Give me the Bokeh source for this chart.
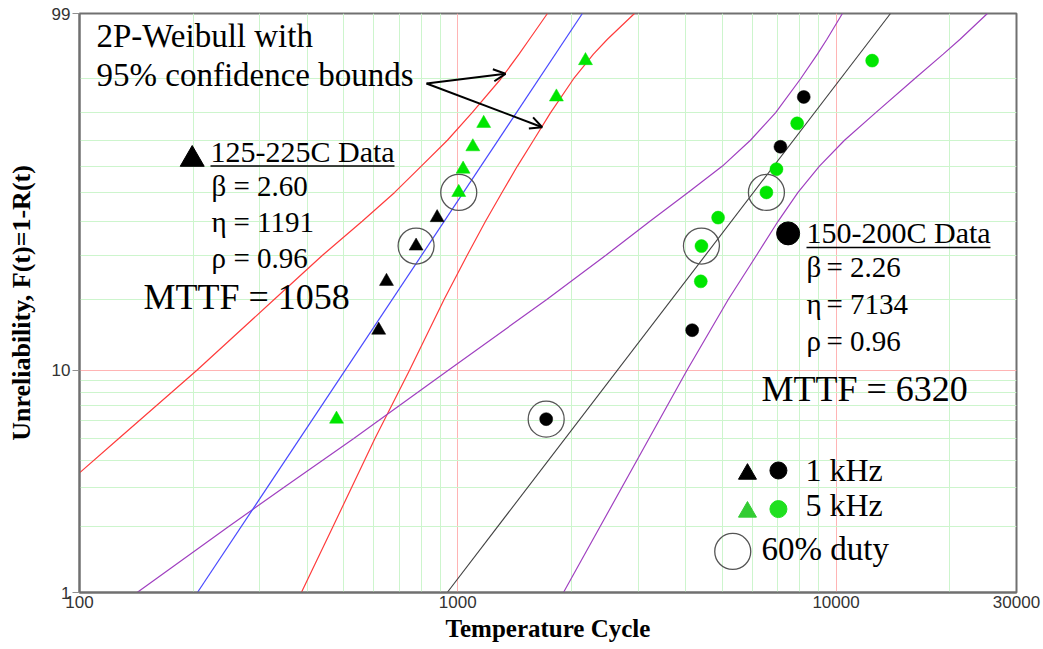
import numpy as np
from bokeh.plotting import figure
from bokeh.models import (Range1d, FixedTicker, CustomJSTickFormatter, PrintfTickFormatter,
                          Label, Arrow, OpenHead, ColumnDataSource)
from bokeh.embed import file_html
from bokeh.resources import INLINE

# ---------------- data ----------------
# median-rank unreliability (%) of the 11 failures in each group
rank_F = [6.1, 14.9, 23.7, 32.5, 41.2, 50.0, 58.8, 67.5, 76.3, 85.1, 93.9]

# 125-225C group (triangles)
cyc_125_225 = [478, 618, 648, 776, 882, 1006, 1033, 1096, 1171, 1823, 2176]
khz_125_225 = ["5", "1", "1", "1", "1", "5", "5", "5", "5", "5", "5"]
duty60_125_225 = [0, 0, 0, 1, 0, 1, 0, 0, 0, 0, 0]

# 150-200C group (circles)
cyc_150_200 = [1713, 4166, 4390, 4408, 4878, 6546, 6959, 7129, 7893, 8216, 12459]
khz_150_200 = ["1", "1", "5", "5", "5", "5", "5", "1", "5", "1", "5"]
duty60_150_200 = [1, 0, 0, 1, 0, 1, 0, 0, 0, 0, 0]

# fitted 2P-Weibull lines (end points at F = 1% and 99%)
fit_F = [1, 99]
fit_125_225 = [205, 2135]
fit_150_200 = [938, 13930]

# 95% confidence bounds
bnd125_lo_F = [3.5, 5, 10, 20, 30, 40, 50, 60, 70, 80, 90, 95, 97, 99]
bnd125_lo_X = [100, 127, 204, 327, 439, 559, 681, 801, 939, 1090, 1299, 1452, 1547, 1726]
bnd125_hi_F = [1, 2, 5, 10, 20, 30, 40, 50, 60, 70, 80, 90, 95, 97, 99]
bnd125_hi_X = [386, 468, 604, 745, 920, 1059, 1184, 1309, 1438, 1586, 1758, 2022, 2284, 2487, 2932]
bnd150_lo_F = [1, 2, 3, 5, 10, 20, 30, 40, 50, 60, 70, 80, 90, 95, 97, 99]
bnd150_lo_X = [142, 248, 346, 531, 942, 1719, 2464, 3222, 4063, 5009, 5939, 6917, 8052, 8929, 9461, 10396]
bnd150_hi_F = [1, 2, 5, 10, 20, 30, 40, 50, 60, 70, 80, 90, 95, 97, 99]
bnd150_hi_X = [1903, 2379, 3204, 4033, 5189, 6165, 7027, 7934, 9040, 10531, 12714, 16106, 19205, 21281, 25130]

# axis ticks
x_ticks = [100, 1000, 10000, 30000]
x_major_grid = [1000, 10000]
x_minor_grid = [200, 300, 400, 500, 600, 700, 800, 900,
                2000, 3000, 4000, 5000, 6000, 7000, 8000, 9000, 20000]
y_ticks = [1, 10, 99]
y_major_grid = [10]
y_minor_grid = [2, 3, 4, 5, 6, 7, 8, 9, 20, 30, 40, 50, 60, 70, 80, 90]

# key marks (legend) positions
key_tri_X, key_circ_X = 5833, 7043
key_row1_F = [3.46, 3.59]
key_row2_F = [2.33, 2.40]
key_duty_X, key_duty_F = 5333, 1.54
head125_X, head125_F = 198.6, 62.6
head150_X, head150_F = 7471, 36.2


def wb(F):
    """Weibull probability-paper coordinate ln(-ln(1-F))."""
    return np.log(-np.log(1.0 - np.asarray(F, dtype=float) / 100.0))


GREEN = "#00e600"
SERIF = "Liberation Serif"
GREEK_FONT = "Liberation Serif, DejaVu Serif, serif"

p = figure(width=1042, height=648, x_axis_type="log",
           x_range=Range1d(100, 30000), y_range=Range1d(float(wb(1)), float(wb(99))),
           output_backend="svg", toolbar_location=None, title=None,
           min_border_left=79, min_border_top=13, min_border_right=26, min_border_bottom=56)
p.background_fill_color = "white"
p.border_fill_color = "white"
p.outline_line_color = "#707070"
p.outline_line_width = 2

# grids
p.xgrid.ticker = FixedTicker(ticks=x_major_grid, minor_ticks=x_minor_grid)
p.ygrid.ticker = FixedTicker(ticks=list(wb(y_major_grid)), minor_ticks=list(wb(y_minor_grid)))
for g in (p.xgrid, p.ygrid):
    g.grid_line_color = "#ffb4b4"
    g.grid_line_width = 1
    g.minor_grid_line_color = "#cdf5cd"
    g.minor_grid_line_width = 1

# axes
p.xaxis.ticker = FixedTicker(ticks=x_ticks, minor_ticks=[])
p.xaxis.formatter = PrintfTickFormatter(format="%d")
p.yaxis.ticker = FixedTicker(ticks=list(wb(y_ticks)), minor_ticks=[])
p.yaxis.formatter = CustomJSTickFormatter(
    code="return String(Math.round(100*(1-Math.exp(-Math.exp(tick)))))")
for ax in (p.xaxis, p.yaxis):
    ax.axis_line_color = "#707070"
    ax.axis_line_width = 2
    ax.major_tick_line_color = "#909090"
    ax.minor_tick_line_color = None
    ax.major_tick_in = 0
    ax.major_label_text_font = "Liberation Sans"
    ax.major_label_text_font_size = "17px"
    ax.major_label_text_color = "#333333"
    ax.axis_label_text_font = SERIF
    ax.axis_label_text_font_style = "bold"
    ax.axis_label_text_color = "black"
p.xaxis.major_tick_out = 0
p.xaxis.major_label_standoff = 3
p.xaxis.axis_label = "Temperature Cycle"
p.xaxis.axis_label_text_font_size = "25px"
p.xaxis.axis_label_standoff = 4
p.yaxis.major_tick_out = 7
p.yaxis.major_label_standoff = 2
p.yaxis.axis_label = "Unreliability, F(t)=1-R(t)"
p.yaxis.axis_label_text_font_size = "26px"
p.yaxis.axis_label_standoff = 13

# confidence bounds
p.line(bnd125_lo_X, wb(bnd125_lo_F), line_color="#ff3c3c", line_width=1.2)
p.line(bnd125_hi_X, wb(bnd125_hi_F), line_color="#ff3c3c", line_width=1.2)
p.line(bnd150_lo_X, wb(bnd150_lo_F), line_color="#a040c0", line_width=1.2)
p.line(bnd150_hi_X, wb(bnd150_hi_F), line_color="#a040c0", line_width=1.2)
# fit lines
p.line(fit_125_225, wb(fit_F), line_color="#4848ff", line_width=1.2)
p.line(fit_150_200, wb(fit_F), line_color="#404040", line_width=1.1)

colour = {"1": "black", "5": GREEN}
src125 = ColumnDataSource(dict(x=cyc_125_225, y=wb(rank_F),
                               c=[colour[k] for k in khz_125_225]))
src150 = ColumnDataSource(dict(x=cyc_150_200, y=wb(rank_F),
                               c=[colour[k] for k in khz_150_200]))
p.scatter("x", "y", source=src125, marker="triangle", size=14,
          fill_color="c", line_color="c", line_width=0.5)
p.scatter("x", "y", source=src150, marker="circle", size=13,
          fill_color="c", line_color="c", line_width=0.5)

# 60% duty rings
d_x = [x for x, d in zip(cyc_125_225, duty60_125_225) if d] + \
      [x for x, d in zip(cyc_150_200, duty60_150_200) if d]
d_F = [f for f, d in zip(rank_F, duty60_125_225) if d] + \
      [f for f, d in zip(rank_F, duty60_150_200) if d]
p.scatter(d_x + [key_duty_X], wb(d_F + [key_duty_F]), marker="circle", size=36,
          fill_color=None, line_color="#555555", line_width=1.3)

# key marks
p.scatter([head125_X, key_tri_X], wb([head125_F, key_row1_F[0]]), marker="triangle",
          size=[24, 18], color="black")
p.scatter([head150_X, key_circ_X], wb([head150_F, key_row1_F[1]]), marker="circle",
          size=[23, 17], color="black")
p.scatter([key_tri_X], wb([key_row2_F[0]]), marker="triangle", size=18, color="#33cc33")
p.scatter([key_circ_X], wb([key_row2_F[1]]), marker="circle", size=17, color="#1fe01f")


def label(text, x, y, s, font=SERIF):
    # x from frame left, y = baseline measured up from frame bottom (pixels)
    p.add_layout(Label(x=x, y=y + 0.38 * s, x_units="screen", y_units="screen", text=text,
                       text_font=font, text_font_size=f"{s}px", text_color="black",
                       text_align="left", text_baseline="alphabetic"))


texts = [
    ("2P-Weibull with", 17, 544, 33),
    ("95% confidence bounds", 17, 505.3, 33),
    ("125-225C Data", 131, 430, 30),
    ("MTTF = 1058", 64, 282, 36),
    ("150-200C Data", 727, 349, 30),
    ("MTTF = 6320", 682, 190.3, 36),
    ("1 kHz", 726, 110.3, 32),
    ("5 kHz", 726, 75.3, 32),
    ("60% duty", 682, 31.3, 33),
]
for t, x, y, s in texts:
    label(t, x, y, s)

# parameter lines: greek symbol, value, symbol x, value x, baseline y
params = [
    ("\u03b2", "= 2.60", 132, 154, 395),
    ("\u03b7", "= 1191", 132, 154, 359),
    ("\u03c1", "= 0.96", 132, 154, 323),
    ("\u03b2", "= 2.26", 727, 747, 314),
    ("\u03b7", "= 7134", 727, 747, 277),
    ("\u03c1", "= 0.96", 727, 747, 240),
]
for g, v, xg, xv, y in params:
    label(g, xg, y, 29, GREEK_FONT)
    label(v, xv, y, 29)

# underlines
for x0, x1, y in [(131, 315, 426.5), (727, 911, 345)]:
    p.add_layout(Arrow(start=None, end=None, x_start=x0, y_start=y, x_end=x1, y_end=y,
                       start_units="screen", end_units="screen",
                       line_color="black", line_width=1.5))

# arrows to the confidence bounds
for xe, ye in [(426, 518.7), (462.7, 465.3)]:
    p.add_layout(Arrow(end=OpenHead(size=12, line_width=2, line_color="black"),
                       x_start=347, y_start=509, x_end=xe, y_end=ye,
                       start_units="screen", end_units="screen",
                       line_color="black", line_width=2))

open("out.html", "w").write(file_html(p, INLINE))
